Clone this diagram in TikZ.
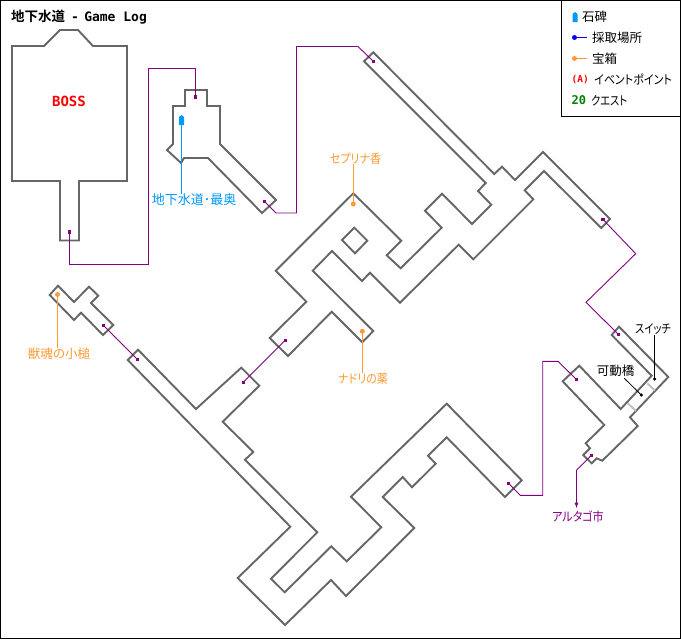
\documentclass[tikz,border=0pt]{standalone}
\usepackage{fontspec}
\newfontfamily\jpfont[RawFeature=+palt]{Noto Sans CJK JP}
\newfontfamily\jpnarrow[RawFeature=+palt,FakeStretch=0.88]{Noto Sans CJK JP}
\newfontfamily\jptight[RawFeature=+palt,FakeStretch=0.82]{Noto Sans CJK JP}
\newfontfamily\jpbold[RawFeature=+palt]{Noto Sans CJK JP Bold}
\newfontfamily\latinbold{DejaVu Sans Mono Bold}
\usetikzlibrary{calc}
\definecolor{wallgray}{HTML}{666666}
\definecolor{linkpurple}{HTML}{800080}
\definecolor{itemorange}{HTML}{FF9933}
\definecolor{steleblue}{HTML}{0099FF}
\definecolor{questgreen}{HTML}{008000}
\tikzset{
    wall/.style={draw=wallgray,line width=1.9pt,line join=miter},
    bridge/.style={draw=black!25,line width=1.9pt},
    link/.style={draw=linkpurple,line width=0.9pt},
    portal/.style={fill=linkpurple,inner sep=0pt,minimum size=3.5pt},
    dotmark/.style={circle,fill=#1,inner sep=0pt,minimum size=5pt},
    pointer/.style={line width=1pt},
    maptext/.style={font=\jpfont\fontsize{12.5}{13}\selectfont,inner sep=0pt},
    kanatext/.style={font=\jpnarrow\fontsize{12.5}{13}\selectfont,inner sep=0pt},
    tighttext/.style={font=\jptight\fontsize{12.5}{13}\selectfont,inner sep=0pt},
    keytext/.style={anchor=west,inner sep=0pt},
}
\begin{document}
\begin{tikzpicture}[x=1pt,y=-1pt]
    \useasboundingbox (0,0) rectangle (681,640);
    \fill[white] (0,0) rectangle (681,640);

    % rooms
    \draw[wall] (12,46) -- (44,46) -- (60,30) -- (78,30) -- (93,46) -- (127,46) -- (127,181) -- (79,181) -- (79,240.5) -- (60,240.5) -- (60,181) -- (12,181) -- cycle;
    \draw[wall] (185,90) -- (207,90) -- (207,106) -- (220,106) -- (220,144) -- (276,200) -- (262,213) -- (208,158) -- (184,158) -- (181,163) -- (167,150) -- (173,144) -- (173,106) -- (185,106) -- cycle;
    \draw[wall] (373.3,52.3) -- (494.3,174) -- (502,166.7) -- (515,180) -- (543,152) -- (610,219) -- (601.3,228) -- (544,171) -- (524.7,190.3) -- (533.3,199.3) -- (473.3,259.3) -- (458.7,244.7) -- (400,302.7) -- (370,272.7) -- (362,281) -- (332,251) -- (312.7,270.7) -- (373.3,331) -- (362.3,342.3) -- (331.7,311.7) -- (288,356) -- (269.7,338) -- (306.3,301.7) -- (275.7,270.7) -- (353.3,193.3) -- (401.3,240.7) -- (386.7,255.3) -- (400.7,268.3) -- (441.7,227.7) -- (425,210.7) -- (442,193.7) -- (472,224) -- (491.3,204.7) -- (478,191) -- (485.7,183) -- (364,61.3) -- cycle;
    \draw[wall] (354.3,227.7) -- (367.3,240.7) -- (355,253.3) -- (342,240) -- cycle;
    \draw[wall] (58,285.7) -- (74,302) -- (89,286.7) -- (98.3,295.7) -- (91,303) -- (113.3,325) -- (103,335) -- (81,312.7) -- (74,320) -- (49.7,295) -- cycle;
    \draw[wall] (138,349.7) -- (196,409) -- (241.3,367.7) -- (259.3,385.7) -- (222.7,421.7) -- (253.3,452) -- (245,459.7) -- (317.3,532.3) -- (271,578.7) -- (284.7,592.3) -- (331.3,546.3) -- (346.7,561.3) -- (381.3,527.3) -- (351,496.7) -- (446.7,403.7) -- (521.7,480.3) -- (505,497) -- (446.7,437.3) -- (428,455.7) -- (435.7,463.7) -- (412,487.3) -- (402.7,477) -- (382.7,497) -- (414.3,528) -- (346,596) -- (331,580) -- (285,625) -- (237.7,578) -- (290.3,526.7) -- (127.7,360) -- cycle;
    \draw[wall] (619,326.7) -- (668.3,377) -- (630,417.3) -- (637.7,426) -- (602.3,460.7) -- (596.7,458.3) -- (591.7,463.3) -- (583.3,455) -- (590,448.3) -- (585.7,443.3) -- (604.3,425) -- (562.7,381.3) -- (579.3,365.7) -- (620.7,409) -- (651.7,375.7) -- (611.7,335) -- cycle;
    \draw[bridge] (627.7,403.3) -- (636,411);
    \draw[bridge] (647.3,383.3) -- (655,390.5);

    % links between rooms
    \node[portal] (bossend) at (69.5,232) {};
    \node[portal] (deeptop) at (195.5,97) {};
    \node[portal] (deepend) at (264.5,201.5) {};
    \node[portal] (longtop) at (373.5,61.5) {};
    \node[portal] (eastend) at (603,219.5) {};
    \node[portal] (switchtop) at (618.3,334.3) {};
    \node[portal] (dockend) at (576.3,379.3) {};
    \node[portal] (lowend) at (508.5,483.3) {};
    \node[portal] (cityend) at (591.3,455.3) {};
    \node[portal] (smallend) at (103.3,325.3) {};
    \node[portal] (lowtop) at (137.3,359.3) {};
    \node[portal] (lowmid) at (243.3,382.3) {};
    \node[portal] (midend) at (285.3,340.3) {};

    \draw[link] (bossend.center) -- (69.5,264) -- (148.5,264) -- (148.5,68.5) -- (195.5,68.5) -- (deeptop.center);
    \draw[link] (deepend.center) -- (276,213) -- (296.5,213) -- (296.5,46.5) -- (358,46.5) -- (longtop.center);
    \draw[link] (eastend.center) -- (635.7,253.7) -- (586,302.3) -- (switchtop.center);
    \draw[link] (dockend.center) -- (558,361.3) -- (542.7,361.3) -- (542.7,495.3) -- (520.3,495.3) -- (lowend.center);
    \draw[link] (smallend.center) -- (lowtop.center);
    \draw[link] (lowmid.center) -- (midend.center);

    \node[kanatext,text=linkpurple] (city) at (578,517) {アルタゴ市};
    \coordinate (cityarrow) at (576.5,508);
    \draw[link,-latex] (cityend.center) -- (576.5,470.3) -- (cityarrow);

    % items
    \node[dotmark=itemorange] (cepmark) at (353.3,204) {};
    \node[kanatext,text=itemorange] (cep) at (355.5,158.5) {セプリナ香};
    \draw[itemorange,pointer] (cepmark.center) -- (cep.south -| cepmark);
    \node[dotmark=itemorange] (nadmark) at (362.3,331.3) {};
    \node[kanatext,text=itemorange] (nad) at (363,379) {ナドリの薬};
    \draw[itemorange,pointer] (nadmark.center) -- (nad.north -| nadmark);
    \node[dotmark=itemorange] (beastmark) at (57.5,294.5) {};
    \node[maptext,text=itemorange] (beast) at (59,354) {獣魂の小槌};
    \draw[itemorange,pointer] (beastmark.center) -- (beast.north -| beastmark);

    \fill[steleblue] (179,117) -- (181.5,115) -- (184,117) -- (184,125) -- (179,125) -- cycle;
    \coordinate (stele) at (181.5,125);
    \node[maptext,text=steleblue,font=\jpfont\fontsize{13}{14}\selectfont] (deep) at (194,200) {地下水道･最奥};
    \draw[steleblue,pointer] (stele) -- (deep.north -| stele);

    % switch
    \node[tighttext] (switch) at (653,329) {スイッチ};
    \node[circle,fill,inner sep=0pt,minimum size=3.5pt] (switchmark) at (654.5,379) {};
    \draw[pointer] (switchmark.center) -- (switch.south -| switchmark);
    \node[maptext] (bridgetext) at (615.5,371) {可動橋};
    \node[circle,fill,inner sep=0pt,minimum size=3.5pt] (bridgemark) at (641.3,395) {};
    \coordinate (bridgeend) at (624.3,378.3);
    \draw[line width=0.8pt] (bridgemark.center) -- (bridgeend);

    % texts
    \node[font=\jpbold\fontsize{13.5}{14}\selectfont,anchor=west,inner sep=0pt] (title) at (11,17) {地下水道\hspace{6pt}{\latinbold\fontsize{13}{14}\selectfont -\hspace{-2.6pt} Game Log}};
    \node[font=\latinbold\fontsize{14}{15}\selectfont,text=red,inner sep=0pt] (boss) at (69,101) {BOSS};

    % legend
    \draw[pointer] (561.5,0) -- (561.5,116.5) -- (681,116.5);
    \fill[steleblue] (572.5,14) -- (575,12) -- (577.5,14) -- (577.5,22) -- (572.5,22) -- cycle;
    \node[maptext,anchor=west] (legstele) at (582,17) {石碑};
    \node[dotmark=blue] (legbluedot) at (574.5,37.5) {};
    \coordinate (legblueend) at (587,37.5);
    \draw[blue,pointer] (legbluedot.center) -- (legblueend);
    \node[maptext,anchor=west] (leggather) at (592,37.5) {採取場所};
    \node[dotmark=itemorange] (legchestdot) at (574.5,58.5) {};
    \coordinate (legchestend) at (587,58.5);
    \draw[itemorange,pointer] (legchestdot.center) -- (legchestend);
    \node[maptext,anchor=west] (legchest) at (592,58.5) {宝箱};
    \node[keytext,font=\latinbold\fontsize{9.5}{12}\selectfont,text=red] (legevkey) at (571.5,79.5) {(A)};
    \node[kanatext,anchor=west] (legevent) at (594,79.5) {イベントポイント};
    \node[keytext,font=\latinbold\fontsize{12}{14}\selectfont,text=questgreen] (legqkey) at (571.5,100.5) {20};
    \node[tighttext,anchor=west] (legquest) at (591,100.5) {クエスト};

    % frame
    \draw[line width=1.5pt] (0.5,0.5) rectangle (680.3,638.7);
\end{tikzpicture}
\end{document}
